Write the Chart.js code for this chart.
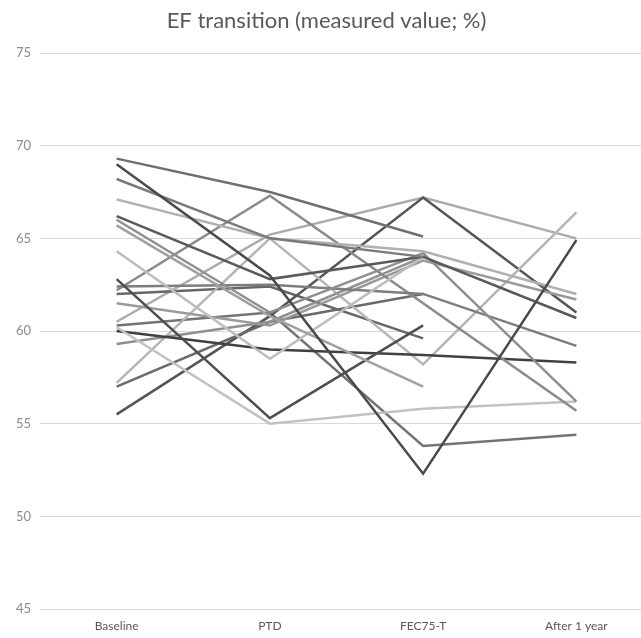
<!DOCTYPE html>
<html>
<head>
<meta charset="utf-8">
<title>EF transition</title>
<script src="https://cdn.jsdelivr.net/npm/chart.js@4"></script>
<style>
  html, body { margin: 0; padding: 0; background: #fff; overflow: hidden; }
  #wrap { width: 660px; height: 638px; }
</style>
</head>
<body>
<div id="wrap"><canvas id="ef-chart" width="660" height="638"></canvas></div>
<script>
const timepoints = ["Baseline", "PTD", "FEC75-T", "After 1 year"];
const yTicks = [45, 50, 55, 60, 65, 70, 75];

// one array per patient: Baseline, PTD, FEC75-T, After 1 year (null = not measured)
const patient01 = [69.3, 67.5, 65.1, null];
const patient02 = [69.0, 63.0, 52.3, 64.9];
const patient03 = [68.2, 65.0, 64.0, null];
const patient04 = [67.1, 65.0, 64.3, 62.0];
const patient05 = [66.2, 62.8, 64.0, 60.7];
const patient06 = [66.0, 61.0, 64.2, 56.2];
const patient07 = [65.7, 60.8, 57.0, null];
const patient08 = [64.3, 58.5, 64.0, null];
const patient09 = [62.8, 55.3, 60.3, null];
const patient10 = [62.4, 62.5, 62.0, 59.2];
const patient11 = [62.2, 67.3, 61.5, 55.7];
const patient12 = [61.5, 60.3, 63.8, 61.7];
const patient13 = [60.2, 55.0, 55.8, 56.2];
const patient14 = [60.0, 59.0, 58.7, 58.3];
const patient15 = [59.3, 60.5, 64.0, null];
const patient16 = [57.2, 65.0, 58.2, 66.4];
const patient17 = [57.0, 60.5, 62.0, null];
const patient18 = [55.5, 60.8, 67.2, 61.0];
const patient19 = [60.3, 61.0, 53.8, 54.4];
const patient20 = [62.0, 62.4, 59.6, null];
const patient21 = [60.5, 65.2, 67.2, 65.0];

const patients = [
  patient01, patient02, patient03, patient04, patient05, patient06, patient07,
  patient08, patient09, patient10, patient11, patient12, patient13, patient14,
  patient15, patient16, patient17, patient18, patient19, patient20, patient21,
];
const greys = [
  "#6f6f6f", "#4a4a4a", "#7a7a7a", "#b0b0b0", "#5a5a5a", "#8f8f8f", "#a0a0a0",
  "#bdbdbd", "#4f4f4f", "#7d7d7d", "#8a8a8a", "#9a9a9a", "#c2c2c2", "#404040",
  "#909090", "#b5b5b5", "#6a6a6a", "#555555", "#737373", "#666666", "#ababab",
];

new Chart(document.getElementById("ef-chart").getContext("2d"), {
  type: "line",
  data: {
    labels: timepoints,
    datasets: patients.map((values, i) => ({
      label: "Patient " + (i + 1),
      data: values,
      borderColor: greys[i],
      borderWidth: 2.5,
      pointRadius: 0,
      tension: 0,
      fill: false,
    })),
  },
  options: {
    responsive: false,
    animation: false,
    layout: { padding: { left: 0, right: 7, top: 0, bottom: 0 } },
    plugins: {
      legend: { display: false },
      tooltip: { enabled: false },
      title: {
        display: true,
        text: "EF transition (measured value; %)",
        color: "#595959",
        font: { family: "Lato, 'Open Sans', sans-serif", size: 22, weight: "normal" },
        padding: { top: 8, bottom: 18.6 },
      },
    },
    scales: {
      x: {
        offset: true,
        grid: { display: false, drawTicks: false },
        border: { display: false },
        ticks: {
          color: "#595959",
          font: { family: "Lato, 'Open Sans', sans-serif", size: 12 },
          padding: 10,
          maxRotation: 0,
        },
        afterFit: (scale) => { scale.height = 29; },
      },
      y: {
        min: 45,
        max: 75,
        afterBuildTicks: (scale) => { scale.ticks = yTicks.map((v) => ({ value: v })); },
        grid: { color: "#d9d9d9", lineWidth: 1, drawTicks: false },
        border: { display: false },
        ticks: {
          color: "#8c8c8c",
          font: { family: "Lato, 'Open Sans', sans-serif", size: 13 },
          padding: 9,
        },
        afterFit: (scale) => { scale.width = 40; },
      },
    },
  },
});
</script>
</body>
</html>
